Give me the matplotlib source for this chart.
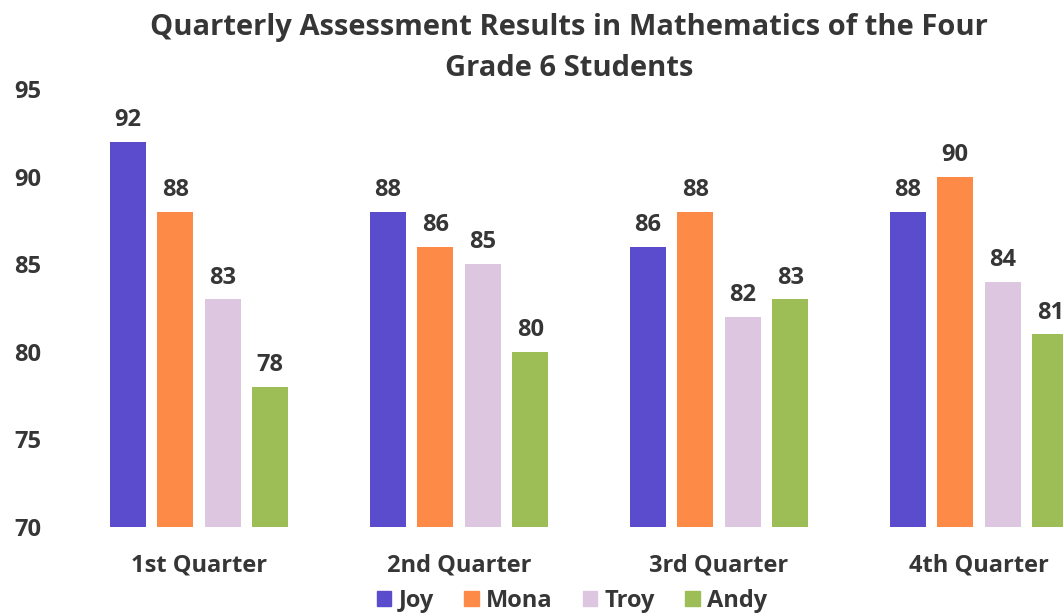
import matplotlib.pyplot as plt
import numpy as np
from matplotlib.patches import Patch

# data
quarters = ['1st Quarter', '2nd Quarter', '3rd Quarter', '4th Quarter']
students = ['Joy', 'Mona', 'Troy', 'Andy']
joy = [92, 88, 86, 88]
mona = [88, 86, 88, 90]
troy = [83, 85, 82, 84]
andy = [78, 80, 83, 81]

colores = ['#5a4ccc', '#fe8a48', '#dcc6e0', '#9dbd57']
series = [joy, mona, troy, andy]

plt.rcParams['font.family'] = ['Open Sans', 'DejaVu Sans']
plt.rcParams['font.weight'] = 'bold'
texto = '#363636'

fig = plt.figure(figsize=(10.63, 6.13), dpi=100)
ax = fig.add_axes([69/1063, 1-527/613, 1-69/1063, (527-89)/613])

x = np.arange(len(quarters))
step = 0.1827
ancho = 0.138
for i, (nombre, vals) in enumerate(zip(students, series)):
    pos = x + (i-1.5)*step
    ax.bar(pos, [v-70 for v in vals], ancho, bottom=70, color=colores[i], label=nombre)
    for p, v in zip(pos, vals):
        ax.annotate(str(v), (p, v), xytext=(0, 7), textcoords='offset points',
                    ha='center', va='bottom', fontsize=17, fontweight='bold',
                    color=texto, annotation_clip=False)

ax.set_ylim(70, 95)
ax.set_xlim(-0.5, (1063-69)/260 - 0.5)
ax.set_yticks([70, 75, 80, 85, 90, 95])
ax.set_xticks(x)
ax.set_xticklabels(quarters)
for s in ax.spines.values():
    s.set_visible(False)
ax.tick_params(length=0, colors=texto)
ax.tick_params(axis='y', pad=20, labelsize=17)
ax.tick_params(axis='x', pad=19, labelsize=17)
for lbl in ax.get_xticklabels() + ax.get_yticklabels():
    lbl.set_fontweight('bold')

fig.text(569/1063, 1-28/613, 'Quarterly Assessment Results in Mathematics of the Four',
         ha='center', va='center', fontsize=21, fontweight='bold', color=texto)
fig.text(569/1063, 1-68/613, 'Grade 6 Students',
         ha='center', va='center', fontsize=21, fontweight='bold', color=texto)

handles = [Patch(color=c, label=n) for c, n in zip(colores, students)]
fig.legend(handles=handles, loc='center', bbox_to_anchor=(572/1063, 1-601/613), ncol=4,
           frameon=False, handlelength=0.6, handleheight=0.6,
           handletextpad=0.3, columnspacing=1.3, prop={'weight': 'bold', 'size': 17})
for t in fig.legends[0].get_texts():
    t.set_color(texto)

fig.savefig('out.png', dpi=100)
